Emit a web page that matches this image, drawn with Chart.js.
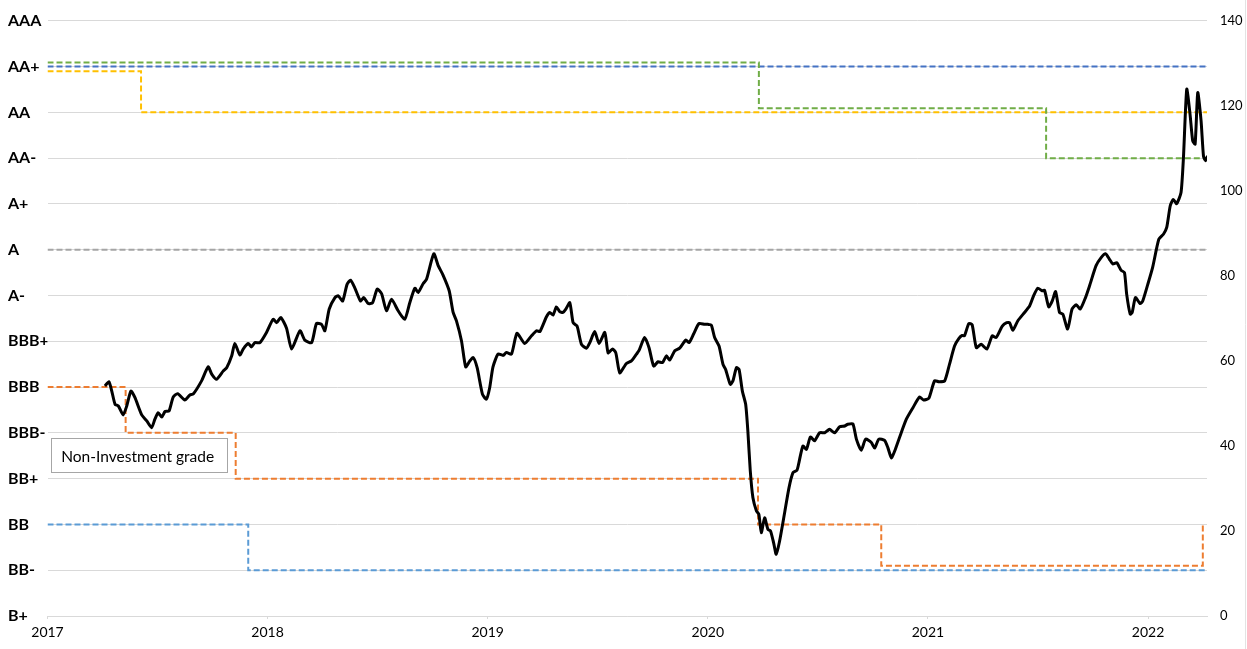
<!DOCTYPE html>
<html>
<head>
<meta charset="utf-8">
<script src="https://cdn.jsdelivr.net/npm/chart.js@4.4.1/dist/chart.umd.min.js"></script>
<style>
    body { margin: 0; background: #ffffff; }
    #wrap { width: 1247px; height: 649px; position: relative; }
</style>
</head>
<body>
<div id="wrap"><canvas id="chart1" width="1247" height="649"></canvas></div>
<script>
// escala de ratings (eje izquierdo), 0 = B+ ... 13 = AAA
const ratingLabels = ['B+', 'BB-', 'BB', 'BB+', 'BBB-', 'BBB', 'BBB+', 'A-', 'A', 'A+', 'AA-', 'AA', 'AA+', 'AAA'];
const yearTicks = [2017, 2018, 2019, 2020, 2021, 2022];
const xMin = 2017;
const xMax = 2022.268;

// indice de precio (eje derecho)
const priceDates = [
    2017.261, 2017.279, 2017.292, 2017.307, 2017.322, 2017.344, 2017.360, 2017.379, 2017.397, 2017.428,
    2017.451, 2017.473, 2017.488, 2017.503, 2017.519, 2017.534, 2017.552, 2017.571, 2017.591, 2017.624,
    2017.647, 2017.662, 2017.700, 2017.730, 2017.746, 2017.768, 2017.798, 2017.814, 2017.837, 2017.851,
    2017.874, 2017.889, 2017.912, 2017.927, 2017.942, 2017.965, 2017.995, 2018.025, 2018.041, 2018.060,
    2018.086, 2018.109, 2018.147, 2018.169, 2018.200, 2018.222, 2018.245, 2018.260, 2018.280, 2018.306,
    2018.321, 2018.341, 2018.361, 2018.377, 2018.396, 2018.422, 2018.437, 2018.457, 2018.477, 2018.498,
    2018.518, 2018.540, 2018.563, 2018.593, 2018.623, 2018.646, 2018.669, 2018.684, 2018.707, 2018.722,
    2018.755, 2018.775, 2018.797, 2018.825, 2018.843, 2018.858, 2018.881, 2018.900, 2018.919, 2018.934,
    2018.952, 2018.976, 2018.994, 2019.009, 2019.024, 2019.047, 2019.070, 2019.085, 2019.108, 2019.133,
    2019.168, 2019.199, 2019.222, 2019.237, 2019.267, 2019.282, 2019.297, 2019.312, 2019.327, 2019.342,
    2019.355, 2019.373, 2019.388, 2019.406, 2019.426, 2019.449, 2019.464, 2019.486, 2019.506, 2019.532,
    2019.547, 2019.567, 2019.582, 2019.600, 2019.630, 2019.653, 2019.676, 2019.687, 2019.713, 2019.733,
    2019.754, 2019.774, 2019.794, 2019.812, 2019.827, 2019.850, 2019.872, 2019.900, 2019.915, 2019.936,
    2019.960, 2019.986, 2020.001, 2020.016, 2020.031, 2020.051, 2020.069, 2020.081, 2020.102, 2020.114,
    2020.130, 2020.142, 2020.157, 2020.172, 2020.182, 2020.193, 2020.205, 2020.221, 2020.232, 2020.243,
    2020.258, 2020.273, 2020.285, 2020.299, 2020.311, 2020.326, 2020.349, 2020.369, 2020.387, 2020.405,
    2020.414, 2020.432, 2020.448, 2020.466, 2020.485, 2020.508, 2020.531, 2020.553, 2020.576, 2020.599,
    2020.622, 2020.636, 2020.659, 2020.675, 2020.697, 2020.717, 2020.743, 2020.758, 2020.777, 2020.803,
    2020.818, 2020.834, 2020.849, 2020.871, 2020.902, 2020.932, 2020.962, 2020.980, 2021.004, 2021.030,
    2021.050, 2021.076, 2021.098, 2021.121, 2021.141, 2021.156, 2021.166, 2021.186, 2021.201, 2021.220,
    2021.242, 2021.268, 2021.292, 2021.310, 2021.338, 2021.358, 2021.371, 2021.386, 2021.408, 2021.439,
    2021.462, 2021.480, 2021.499, 2021.519, 2021.530, 2021.549, 2021.565, 2021.580, 2021.598, 2021.613,
    2021.635, 2021.655, 2021.674, 2021.692, 2021.716, 2021.734, 2021.764, 2021.787, 2021.807, 2021.825,
    2021.840, 2021.858, 2021.878, 2021.893, 2021.903, 2021.919, 2021.928, 2021.943, 2021.964, 2021.976,
    2021.999, 2022.021, 2022.049, 2022.070, 2022.085, 2022.101, 2022.115, 2022.130, 2022.150, 2022.161,
    2022.176, 2022.191, 2022.203, 2022.214, 2022.226, 2022.241, 2022.252, 2022.261, 2022.271
];
const priceValues = [
    54.1, 55.1, 52.9, 49.8, 49.4, 47.3, 49.4, 52.9, 51.4, 47.3,
    45.9, 44.3, 46.3, 47.8, 46.8, 48.1, 48.2, 51.5, 52.3, 50.8,
    52.0, 52.2, 55.3, 58.6, 56.9, 55.7, 57.6, 58.4, 61.2, 64.1,
    61.4, 62.8, 64.1, 63.3, 64.3, 64.3, 66.7, 69.8, 69.0, 70.2,
    67.7, 62.8, 67.1, 64.9, 64.3, 68.8, 68.6, 67.1, 72.2, 74.9,
    75.3, 74.1, 78.0, 79.0, 77.2, 74.1, 74.9, 73.5, 73.7, 76.9,
    75.8, 71.8, 74.5, 71.8, 69.8, 73.7, 77.1, 76.1, 78.2, 79.2,
    85.2, 82.4, 80.2, 76.5, 71.4, 69.4, 64.7, 58.6, 60.0, 60.8,
    58.4, 52.2, 51.0, 53.7, 58.6, 61.6, 61.3, 62.0, 61.6, 66.5,
    64.1, 65.9, 67.1, 66.9, 70.4, 71.4, 70.8, 72.7, 71.6, 71.4,
    72.2, 73.7, 69.0, 68.2, 63.9, 63.0, 64.3, 66.9, 64.1, 66.7,
    61.9, 62.8, 61.9, 57.2, 59.4, 60.0, 61.6, 62.4, 65.5, 63.1,
    58.8, 59.8, 59.6, 61.2, 60.2, 62.4, 63.0, 64.9, 64.3, 66.4,
    68.8, 68.6, 68.6, 68.4, 65.5, 63.5, 59.2, 58.0, 54.5, 55.3,
    58.4, 58.0, 52.9, 49.8, 43.5, 34.1, 27.8, 24.7, 23.9, 19.6,
    23.1, 20.4, 20.0, 17.2, 14.5, 17.6, 24.3, 30.2, 33.7, 34.3,
    36.1, 40.0, 39.2, 42.1, 41.2, 43.1, 43.1, 43.9, 43.1, 44.5,
    44.7, 45.1, 45.2, 41.6, 39.0, 41.6, 40.8, 39.5, 41.6, 41.3,
    39.6, 37.2, 38.8, 42.0, 46.3, 49.0, 51.5, 50.8, 51.2, 55.3,
    55.1, 55.3, 59.2, 63.5, 65.3, 66.0, 65.9, 68.8, 68.5, 63.1,
    63.9, 62.8, 65.9, 65.5, 68.2, 69.0, 69.0, 67.2, 69.4, 71.4,
    72.9, 75.3, 77.1, 76.5, 76.6, 72.7, 74.1, 76.3, 71.4, 71.0,
    67.5, 72.2, 73.2, 72.2, 74.9, 77.6, 82.4, 84.3, 85.2, 83.9,
    82.8, 83.1, 81.3, 80.8, 75.7, 71.0, 71.4, 74.9, 73.5, 74.1,
    78.0, 82.0, 88.6, 89.8, 91.4, 96.5, 98.0, 97.0, 99.6, 107.8,
    123.9, 118.0, 111.8, 111.0, 123.1, 116.5, 108.2, 107.1, 108.2
];

// historial de ratings (escalones)
const orangeDates = [2017.000, 2017.355, 2017.855, 2020.228, 2020.788, 2022.249];
const orangeRatings = [5, 4, 3, 2, 1.1, 2];
const lightBlueDates = [2017.000, 2017.912, 2022.268];
const lightBlueRatings = [2, 1, 1];
const yellowDates = [2017.000, 2017.425, 2022.268];
const yellowRatings = [11.9, 11, 11];
const greenDates = [2017.000, 2020.232, 2021.537, 2022.268];
const greenRatings = [12.09, 11.09, 10, 10];
const darkBlueDates = [2017.000, 2022.268];
const darkBlueRatings = [12, 12];
const grayDates = [2017.000, 2022.268];
const grayRatings = [8, 8];

const boxText = 'Non-Investment grade';

function puntos(xs, ys) {
    return xs.map((x, i) => ({ x: x, y: ys[i] }));
}

function escalon(label, xs, ys, color) {
    return {
        label: label,
        data: puntos(xs, ys),
        yAxisID: 'yRating',
        borderColor: color,
        borderWidth: 2,
        borderDash: [6, 3],
        stepped: 'before',
        pointRadius: 0,
        fill: false
    };
}

const cajaPlugin = {
    id: 'cajaNoInversion',
    afterDraw: function (chart) {
        const ctx = chart.ctx;
        const xs = chart.scales.x;
        const ys = chart.scales.yRating;
        const left = xs.getPixelForValue(2017.017);
        const right = xs.getPixelForValue(2017.818);
        const top = ys.getPixelForValue(3.88);
        const bottom = ys.getPixelForValue(3.13);
        ctx.save();
        ctx.fillStyle = '#ffffff';
        ctx.fillRect(left, top, right - left, bottom - top);
        ctx.strokeStyle = '#a6a6a6';
        ctx.lineWidth = 1;
        ctx.strokeRect(Math.round(left) + 0.5, Math.round(top) + 0.5, Math.round(right - left), Math.round(bottom - top));
        ctx.fillStyle = '#000000';
        ctx.font = '15.5px Lato';
        ctx.textBaseline = 'middle';
        ctx.fillText(boxText, left + 10, (top + bottom) / 2 + 1);
        // borde derecho de la imagen
        ctx.strokeStyle = '#e3e3e3';
        ctx.beginPath();
        ctx.moveTo(1245.5, 0);
        ctx.lineTo(1245.5, chart.height);
        ctx.stroke();
        ctx.restore();
    }
};

const config = {
    type: 'line',
    data: {
        datasets: [
            {
                label: 'Precio',
                data: puntos(priceDates, priceValues),
                yAxisID: 'yPrecio',
                borderColor: '#000000',
                borderWidth: 3,
                pointRadius: 0,
                tension: 0.2,
                fill: false
            },
            escalon('Naranja', orangeDates, orangeRatings, '#ED7D31'),
            escalon('Azul claro', lightBlueDates, lightBlueRatings, '#5B9BD5'),
            escalon('Verde', greenDates, greenRatings, '#70AD47'),
            escalon('Azul', darkBlueDates, darkBlueRatings, '#4472C4'),
            escalon('Amarillo', yellowDates, yellowRatings, '#FFC000'),
            escalon('Gris', grayDates, grayRatings, '#A5A5A5')
        ]
    },
    options: {
        responsive: false,
        animation: false,
        layout: { padding: { left: 8, top: 19, right: 0, bottom: 0 } },
        plugins: {
            legend: { display: false },
            tooltip: { enabled: false }
        },
        scales: {
            x: {
                type: 'linear',
                min: xMin,
                max: xMax,
                afterBuildTicks: function (scale) {
                    scale.ticks = yearTicks.map((v) => ({ value: v }));
                },
                afterFit: function (scale) { scale.height = 33; },
                grid: { drawOnChartArea: false, drawTicks: true, tickLength: 3, color: '#d9d9d9' },
                border: { display: true, color: '#d9d9d9' },
                ticks: {
                    padding: 5,
                    maxRotation: 0,
                    color: '#000000',
                    font: { family: 'Lato', size: 14 },
                    callback: function (value) { return String(value); }
                }
            },
            yRating: {
                type: 'linear',
                position: 'left',
                min: 0,
                max: 13,
                afterFit: function (scale) { scale.width = 39.5; },
                grid: { color: '#d9d9d9', drawTicks: false },
                border: { display: false },
                ticks: {
                    stepSize: 1,
                    crossAlign: 'far',
                    color: '#000000',
                    font: { family: 'Lato', size: 16, weight: 'bold' },
                    callback: function (value) { return ratingLabels[value]; }
                }
            },
            yPrecio: {
                type: 'linear',
                position: 'right',
                min: 0,
                max: 140,
                afterFit: function (scale) { scale.width = 40; },
                grid: { display: false, drawTicks: false },
                border: { display: false },
                ticks: {
                    stepSize: 20,
                    padding: 13,
                    color: '#000000',
                    font: { family: 'Lato', size: 13 }
                }
            }
        }
    },
    plugins: [cajaPlugin]
};

const canva = document.getElementById('chart1');
const grafico = new Chart(canva, config);
</script>
</body>
</html>
